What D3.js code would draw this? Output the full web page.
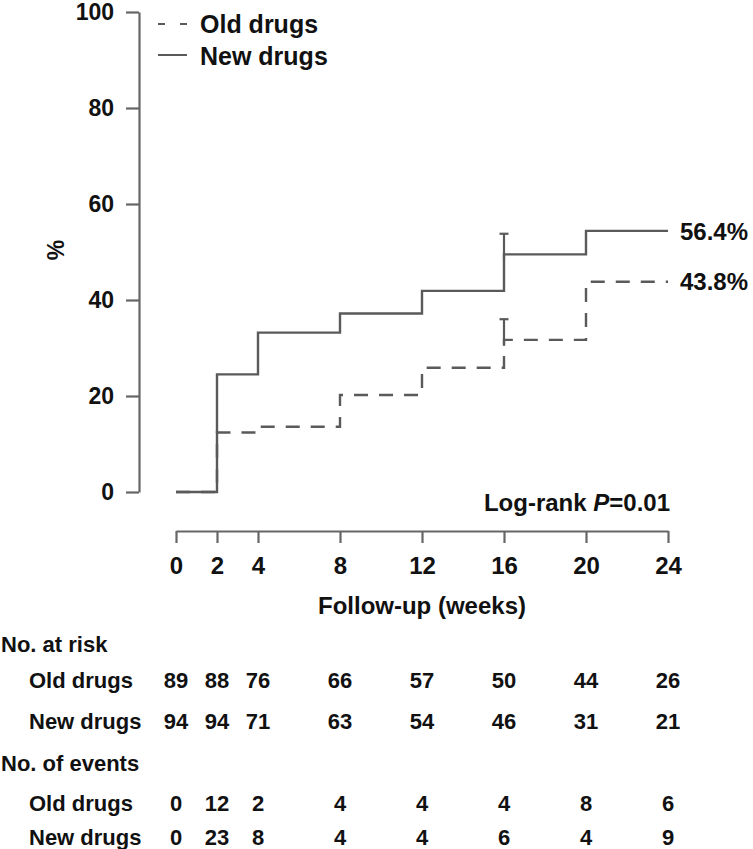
<!DOCTYPE html>
<html>
<head>
<meta charset="utf-8">
<script src="https://cdn.jsdelivr.net/npm/d3@7"></script>
<style>
  html, body { margin: 0; padding: 0; background: #fff; }
  svg text { font-family: "Liberation Sans", Arial, Helvetica, sans-serif; font-weight: bold; fill: #111; }
</style>
</head>
<body>
<svg id="chart" width="753" height="849"></svg>
<script>
// ---- data ----
const weeks = [0, 2, 4, 8, 12, 16, 20, 24];
const oldDrugs = [0, 12.4, 13.6, 20.2, 25.9, 31.7, 43.8, 43.8];
const newDrugs = [0, 24.5, 33.2, 37.2, 41.9, 49.5, 54.4, 54.4];
const errWeek = 16;
const oldUpper = 36.0;
const newUpper = 53.8;
const yTicks = [0, 20, 40, 60, 80, 100];
const endLabels = ["56.4%", "43.8%"];
const rowNames = ["Old drugs", "New drugs"];
const atRiskOld = [89, 88, 76, 66, 57, 50, 44, 26];
const atRiskNew = [94, 94, 71, 63, 54, 46, 31, 21];
const eventsOld = [0, 12, 2, 4, 4, 4, 8, 6];
const eventsNew = [0, 23, 8, 4, 4, 6, 4, 9];

const svg = d3.select("#chart");
const x = d3.scaleLinear().domain([0, 24]).range([176, 668]);
const y = d3.scaleLinear().domain([0, 100]).range([492, 12]);
const lineColor = "#5a5a5a";
const axisColor = "#666";

// y axis
const yAxisG = svg.append("g").attr("transform", "translate(139,0)")
  .call(d3.axisLeft(y).tickValues(yTicks).tickSize(13).tickSizeOuter(0).tickPadding(12));
yAxisG.select(".domain").attr("stroke", axisColor).attr("stroke-width", 2.2);
yAxisG.selectAll(".tick line").attr("stroke", axisColor).attr("stroke-width", 2.2);
yAxisG.selectAll(".tick text").attr("font-size", 23).attr("font-family", null).attr("fill", "#111");

// x axis
const xAxisG = svg.append("g").attr("transform", "translate(0,531)")
  .call(d3.axisBottom(x).tickValues(weeks).tickSize(12).tickSizeOuter(0).tickPadding(14));
xAxisG.select(".domain").attr("stroke", axisColor).attr("stroke-width", 2.2);
xAxisG.selectAll(".tick line").attr("stroke", axisColor).attr("stroke-width", 2.2);
xAxisG.selectAll(".tick text").attr("font-size", 24).attr("font-family", null).attr("fill", "#111");
// outer ticks at ends
svg.append("text").attr("x", x(12)).attr("y", 614).attr("text-anchor", "middle")
  .attr("font-size", 24).text("Follow-up (weeks)");

// y label
svg.append("text").attr("transform", "translate(64,250) rotate(-90)")
  .attr("text-anchor", "middle").attr("font-size", 23).text("%");

// curves
const line = d3.line().x(d => x(d[0])).y(d => y(d[1])).curve(d3.curveStepAfter);
svg.append("path").datum(weeks.map((w, i) => [w, oldDrugs[i]]))
  .attr("d", line).attr("fill", "none").attr("stroke", lineColor)
  .attr("stroke-width", 2.4).attr("stroke-dasharray", "14,11");
svg.append("path").datum(weeks.map((w, i) => [w, newDrugs[i]]))
  .attr("d", line).attr("fill", "none").attr("stroke", lineColor)
  .attr("stroke-width", 2.4);

// error bars at 16 weeks
const errs = [[oldDrugs[weeks.indexOf(errWeek)], oldUpper], [newDrugs[weeks.indexOf(errWeek)], newUpper]];
errs.forEach(([lo, hi]) => {
  svg.append("line").attr("x1", x(errWeek)).attr("x2", x(errWeek))
    .attr("y1", y(lo) + 6).attr("y2", y(hi)).attr("stroke", lineColor).attr("stroke-width", 2.2);
  svg.append("line").attr("x1", x(errWeek) - 4.5).attr("x2", x(errWeek) + 4.5)
    .attr("y1", y(hi)).attr("y2", y(hi)).attr("stroke", lineColor).attr("stroke-width", 2.2);
});

// end labels
svg.append("text").attr("x", 680).attr("y", y(newDrugs[7])).attr("dy", "0.36em")
  .attr("font-size", 24).text(endLabels[0]);
svg.append("text").attr("x", 680).attr("y", y(oldDrugs[7])).attr("dy", "0.36em")
  .attr("font-size", 24).text(endLabels[1]);

// log-rank
const lr = svg.append("text").attr("x", 670).attr("y", 511).attr("text-anchor", "end").attr("font-size", 24);
lr.append("tspan").text("Log-rank ");
lr.append("tspan").attr("font-style", "italic").text("P");
lr.append("tspan").text("=0.01");

// legend
svg.append("line").attr("x1", 158).attr("x2", 188).attr("y1", 24).attr("y2", 24)
  .attr("stroke", lineColor).attr("stroke-width", 2).attr("stroke-dasharray", "7,15");
svg.append("line").attr("x1", 158).attr("x2", 187).attr("y1", 55).attr("y2", 55)
  .attr("stroke", lineColor).attr("stroke-width", 2);
svg.append("text").attr("x", 200).attr("y", 24).attr("dy", "0.36em").attr("font-size", 25).text(rowNames[0]);
svg.append("text").attr("x", 200).attr("y", 56).attr("dy", "0.36em").attr("font-size", 25).text(rowNames[1]);

// risk table
const tableFont = 22;
function header(txt, cy) {
  svg.append("text").attr("x", 1).attr("y", cy).attr("dy", "0.36em").attr("font-size", tableFont).text(txt);
}
function row(name, vals, cy) {
  svg.append("text").attr("x", 29).attr("y", cy).attr("dy", "0.36em").attr("font-size", tableFont).text(name);
  svg.append("g").selectAll("text").data(vals).join("text")
    .attr("x", (d, i) => x(weeks[i])).attr("y", cy).attr("dy", "0.36em")
    .attr("text-anchor", "middle").attr("font-size", tableFont).text(d => d);
}
header("No. at risk", 644);
row(rowNames[0], atRiskOld, 680);
row(rowNames[1], atRiskNew, 721);
header("No. of events", 763);
row(rowNames[0], eventsOld, 803);
row(rowNames[1], eventsNew, 837);
</script>
</body>
</html>
